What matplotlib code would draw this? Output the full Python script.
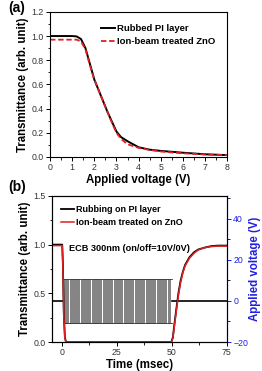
import numpy as np
import matplotlib
matplotlib.use("Agg")
import matplotlib.pyplot as plt
from matplotlib.ticker import MultipleLocator

plt.rcParams["font.family"] = ["Liberation Sans", "DejaVu Sans"]

# (a) voltage-transmittance curves
volt = [0, 0.5, 1.0, 1.2, 1.4, 1.6, 1.8, 2.0, 2.2, 2.4, 2.6, 2.8, 3.0, 3.2, 3.5, 4.0, 4.5, 5.0, 6.0, 7.0, 8.0]
t_rubbed = [1.0, 1.0, 1.0, 0.997, 0.975, 0.9, 0.77, 0.64, 0.55, 0.46, 0.37, 0.29, 0.21, 0.165, 0.13, 0.08, 0.06, 0.05, 0.035, 0.022, 0.015]
t_ionbeam = [0.97, 0.97, 0.97, 0.97, 0.955, 0.89, 0.76, 0.64, 0.55, 0.46, 0.37, 0.28, 0.20, 0.15, 0.105, 0.075, 0.058, 0.045, 0.03, 0.02, 0.015]

# (b) time response
time_ms = [-4.4, -1, 0.3, 0.6, 1.0, 1.5, 2.0, 10, 30, 49.8, 50.5, 51, 52, 53, 54, 55, 56, 58, 60, 62, 65, 68, 71, 75]
t_rub_b = [1.0, 1.0, 1.0, 0.8, 0.3, 0.05, 0.0, 0.0, 0.0, 0.0, 0.05, 0.15, 0.33, 0.5, 0.63, 0.72, 0.79, 0.87, 0.92, 0.95, 0.97, 0.985, 0.99, 0.99]
t_ion_b = [0.99, 0.99, 0.99, 0.78, 0.28, 0.04, 0.0, 0.0, 0.0, 0.0, 0.04, 0.13, 0.31, 0.48, 0.61, 0.71, 0.78, 0.86, 0.91, 0.945, 0.97, 0.98, 0.985, 0.985]
pulse_amp = 10.5    # V, on/off = 10V/0V (AC)
pulse_period = 1.0  # ms
pulse_window = [0.6, 50.0]

# square drive voltage
n_half = int((pulse_window[1] - pulse_window[0]) / (pulse_period / 2))
edges = pulse_window[0] + np.arange(n_half + 1) * pulse_period / 2
levels = np.tile([pulse_amp, -pulse_amp], n_half // 2 + 1)[:n_half]
v_t = np.repeat(edges, 2)[1:-1]
v_v = np.repeat(levels, 2)

fig = plt.figure(figsize=(2.62, 3.71), dpi=100)

ax1 = fig.add_axes([0.191, 0.577, 0.676, 0.391])
ax1.plot(volt, t_rubbed, color="black", lw=1.4, label="Rubbed PI layer")
ax1.plot(volt, t_ionbeam, color="#e02020", lw=1.3, ls=(0, (3, 1.5)), label="Ion-beam treated ZnO")
ax1.set_xlim(0, 8)
ax1.set_ylim(0, 1.2)
ax1.xaxis.set_major_locator(MultipleLocator(1))
ax1.xaxis.set_minor_locator(MultipleLocator(0.5))
ax1.yaxis.set_major_locator(MultipleLocator(0.2))
ax1.yaxis.set_minor_locator(MultipleLocator(0.1))
ax1.set_xlabel("Applied voltage (V)", fontsize=8.3, fontweight="bold", labelpad=1)
ax1.set_ylabel("Transmittance (arb. unit)", fontsize=8.3, fontweight="bold", labelpad=2)
ax1.legend(loc="upper right", frameon=False, prop={"weight": "bold", "size": 6.8},
           handlelength=1.5, handletextpad=0.2, borderaxespad=0.9, labelspacing=0.45)
fig.text(0.03, 0.998, "(a)", fontsize=10, fontweight="bold", va="top")

ax2 = fig.add_axes([0.198, 0.078, 0.668, 0.394])
ax2.plot(time_ms, t_rub_b, color="black", lw=1.3, label="Rubbing on PI layer")
ax2.plot(time_ms, t_ion_b, color="#e02020", lw=1.1, label="Ion-beam treated on ZnO")
ax2.set_xlim(-4.4, 75)
ax2.set_ylim(0, 1.5)
ax2.xaxis.set_major_locator(MultipleLocator(25))
ax2.xaxis.set_minor_locator(MultipleLocator(12.5))
ax2.yaxis.set_major_locator(MultipleLocator(0.5))
ax2.yaxis.set_minor_locator(MultipleLocator(0.25))
ax2.set_xlabel("Time (msec)", fontsize=8.3, fontweight="bold", labelpad=1)
ax2.set_ylabel("Transmittance (arb. unit)", fontsize=8.3, fontweight="bold", labelpad=2)
ax2.legend(loc="upper left", frameon=False, prop={"weight": "bold", "size": 6.5},
           handlelength=1.4, handletextpad=0.3, borderaxespad=0.6, labelspacing=0.45)
ax2.text(0.1, 0.62, "ECB 300nm (on/off=10V/0V)", transform=ax2.transAxes,
         fontsize=6.6, fontweight="bold")
fig.text(0.03, 1 - 180 / 371, "(b)", fontsize=10, fontweight="bold", va="top")

ax3 = ax2.twinx()
ax3.plot(v_t, v_v, color="#505050", lw=0.5)
ax3.plot([pulse_window[0], pulse_window[1]], [pulse_amp, pulse_amp], color="#333333", lw=0.6)
ax3.plot([pulse_window[0], pulse_window[1]], [-pulse_amp, -pulse_amp], color="#333333", lw=0.6)
ax3.plot([-4.4, pulse_window[0]], [0, 0], color="black", lw=1.2)
ax3.plot([pulse_window[1], 75], [0, 0], color="black", lw=1.2)
ax3.set_ylim(-20, 51)
ax3.yaxis.set_major_locator(MultipleLocator(20))
ax3.yaxis.set_minor_locator(MultipleLocator(10))
ax3.set_ylabel("Applied voltage (V)", fontsize=8.3, fontweight="bold", color="#2020e0", labelpad=1)
ax3.tick_params(axis="y", colors="#2020e0")
ax2.set_zorder(ax3.get_zorder() + 1)
ax2.patch.set_visible(False)

for ax in (ax1, ax2, ax3):
    ax.tick_params(which="major", labelsize=6.3, length=3, width=0.7, pad=1.5)
    ax.tick_params(which="minor", length=1.8, width=0.6)
    for s in ax.spines.values():
        s.set_linewidth(0.8)
ax3.spines["right"].set_color("#2020e0")
for lab in ax1.get_xticklabels() + ax1.get_yticklabels() + ax2.get_xticklabels() + ax2.get_yticklabels():
    lab.set_color("#333333")

fig.savefig("out.png", dpi=100)
